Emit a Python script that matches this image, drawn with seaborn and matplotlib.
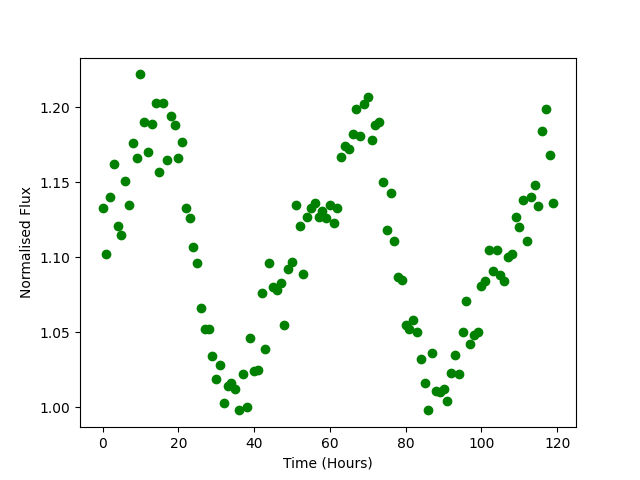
import numpy as np
import pandas as pd
import matplotlib
matplotlib.use("Agg")
import matplotlib.pyplot as plt
import seaborn as sns

# hourly flux readings
hours = np.arange(0, 120)
flux = [
    1.133, 1.102, 1.140, 1.162, 1.121, 1.115, 1.151, 1.135, 1.176, 1.166,
    1.222, 1.190, 1.170, 1.189, 1.203, 1.157, 1.203, 1.165, 1.194, 1.188,
    1.166, 1.177, 1.133, 1.126, 1.107, 1.096, 1.066, 1.052, 1.052, 1.034,
    1.019, 1.028, 1.003, 1.014, 1.016, 1.012, 0.998, 1.022, 1.000, 1.046,
    1.024, 1.025, 1.076, 1.039, 1.096, 1.080, 1.078, 1.083, 1.055, 1.092,
    1.097, 1.135, 1.121, 1.089, 1.127, 1.133, 1.136, 1.127, 1.131, 1.126,
    1.135, 1.123, 1.133, 1.167, 1.174, 1.172, 1.182, 1.199, 1.181, 1.202,
    1.207, 1.178, 1.188, 1.190, 1.150, 1.118, 1.143, 1.111, 1.087, 1.085,
    1.055, 1.052, 1.058, 1.050, 1.032, 1.016, 0.998, 1.036, 1.011, 1.010,
    1.012, 1.004, 1.023, 1.035, 1.022, 1.050, 1.071, 1.042, 1.048, 1.050,
    1.081, 1.084, 1.105, 1.091, 1.105, 1.088, 1.084, 1.100, 1.102, 1.127,
    1.120, 1.138, 1.111, 1.140, 1.148, 1.134, 1.184, 1.199, 1.168, 1.136,
]

df = pd.DataFrame({"Time": hours, "Flux": flux})

fig, ax = plt.subplots(figsize=(6.4, 4.8), dpi=100)
sns.scatterplot(data=df, x="Time", y="Flux", ax=ax, color="green",
                s=36, edgecolor="green", linewidth=1)
ax.set_xlabel("Time (Hours)")
ax.set_ylabel("Normalised Flux")

fig.savefig("out.png", dpi=100)
